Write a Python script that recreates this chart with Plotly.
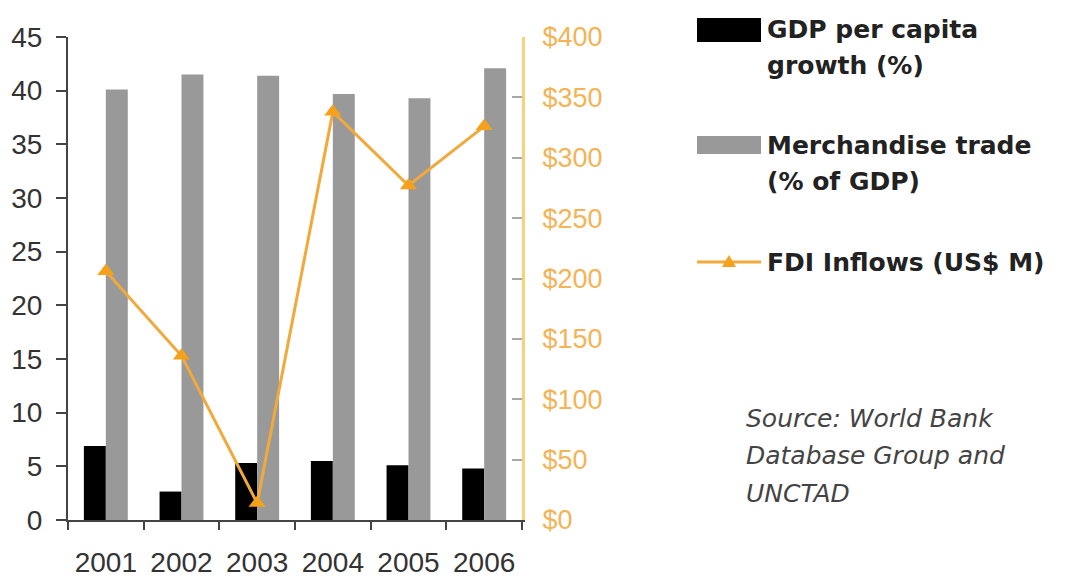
import plotly.graph_objects as go

years = ["2001", "2002", "2003", "2004", "2005", "2006"]
gdp_growth = [6.9, 2.65, 5.3, 5.5, 5.1, 4.8]
merch_trade = [40.1, 41.5, 41.4, 39.7, 39.3, 42.1]
fdi_inflows = [206, 136, 14, 338, 277, 326]

left_ticks = list(range(0, 50, 5))
right_ticks = list(range(0, 450, 50))
right_tick_labels = ["$" + str(v) for v in right_ticks]

W, H = 1071, 579
L, R, T, B = 68, 522, 37, 520  # plot area pixel bounds

def px(x):
    return (x - L) / (R - L)

def py(y):
    return (B - y) / (B - T)

ORANGE = "#F2A93B"
AXIS_ORANGE = "#F6D27A"
TXT = "#333333"

fig = go.Figure()
fig.add_trace(go.Bar(x=years, y=gdp_growth, name="GDP per capita growth (%)",
                     marker=dict(color="#000000", line=dict(width=0)), yaxis="y"))
fig.add_trace(go.Bar(x=years, y=merch_trade, name="Merchandise trade (% of GDP)",
                     marker=dict(color="#999999", line=dict(width=0)), yaxis="y"))
fig.add_trace(go.Scatter(x=years, y=fdi_inflows, name="FDI Inflows (US$ M)", yaxis="y2",
                         mode="lines+markers",
                         line=dict(color=ORANGE, width=3),
                         marker=dict(symbol="triangle-up", size=15, color="#F5A11C")))

fig.update_layout(
    width=W, height=H,
    margin=dict(l=L, r=W - R, t=T, b=H - B, autoexpand=False),
    paper_bgcolor="white", plot_bgcolor="white",
    showlegend=False,
    barmode="group", bargap=0.42, bargroupgap=0,
    font=dict(family="Liberation Sans, Arial, sans-serif", color=TXT),
    xaxis=dict(type="category", tickson="boundaries", ticks="outside", ticklen=8,
               tickcolor="#444", tickwidth=2, showline=True, linecolor="#444", linewidth=2,
               showgrid=False, tickfont=dict(size=28, color=TXT), ticklabelstandoff=16,
               automargin=False),
    yaxis=dict(range=[0, 45], tickvals=left_ticks, ticks="outside", ticklen=10,
               tickcolor="#444", tickwidth=2, showline=True, linecolor="#444", linewidth=2,
               showgrid=False, zeroline=False, tickfont=dict(size=28, color=TXT),
               ticklabelstandoff=8, automargin=False),
    yaxis2=dict(range=[0, 400], tickvals=right_ticks, ticktext=right_tick_labels,
                overlaying="y", side="right",
                ticks="inside", ticklen=10, tickcolor="#A8A8A8",
                tickwidth=2, showline=True, linecolor=AXIS_ORANGE, linewidth=3,
                showgrid=False, zeroline=False, tickfont=dict(size=27, color="#F4B355"),
                ticklabelstandoff=12, automargin=False),
)

# Legend drawn manually
shapes = [
    dict(type="rect", xref="paper", yref="paper", x0=px(697), x1=px(761), y0=py(42), y1=py(18),
         fillcolor="#000000", line=dict(width=0)),
    dict(type="rect", xref="paper", yref="paper", x0=px(697), x1=px(761), y0=py(154), y1=py(136),
         fillcolor="#999999", line=dict(width=0)),
    dict(type="line", xref="paper", yref="paper", x0=px(697), x1=px(761), y0=py(262), y1=py(262),
         line=dict(color=ORANGE, width=3)),
    dict(type="path", xref="paper", yref="paper",
         path="M {a},{b} L {c},{b} L {d},{e} Z".format(a=px(722), b=py(267), c=px(736),
                                                      d=px(729), e=py(255)),
         fillcolor="#F5A11C", line=dict(width=0)),
]
fig.update_layout(shapes=shapes)

legend_lines = [
    ("GDP per capita", 30), ("growth (%)", 66),
    ("Merchandise trade", 145), ("(% of GDP)", 181),
    ("FDI Inflows (US$ M)", 262),
]
annotations = []
for text, y in legend_lines:
    annotations.append(dict(text="<b>" + text + "</b>", xref="paper", yref="paper",
                            x=px(765), y=py(y), xanchor="left", yanchor="middle",
                            showarrow=False,
                            font=dict(family="DejaVu Sans, Verdana, sans-serif", size=25, color="#222")))
source_lines = [("Source: World Bank", 418), ("Database Group and", 455), ("UNCTAD", 493)]
for text, y in source_lines:
    annotations.append(dict(text="<i>" + text + "</i>", xref="paper", yref="paper",
                            x=px(744), y=py(y), xanchor="left", yanchor="middle",
                            showarrow=False,
                            font=dict(family="DejaVu Sans, Verdana, sans-serif", size=25, color="#444")))
fig.update_layout(annotations=annotations)

fig.write_html("out.html", config={"displayModeBar": False},
               post_script="document.body.style.margin='0';document.body.style.padding='0';")
